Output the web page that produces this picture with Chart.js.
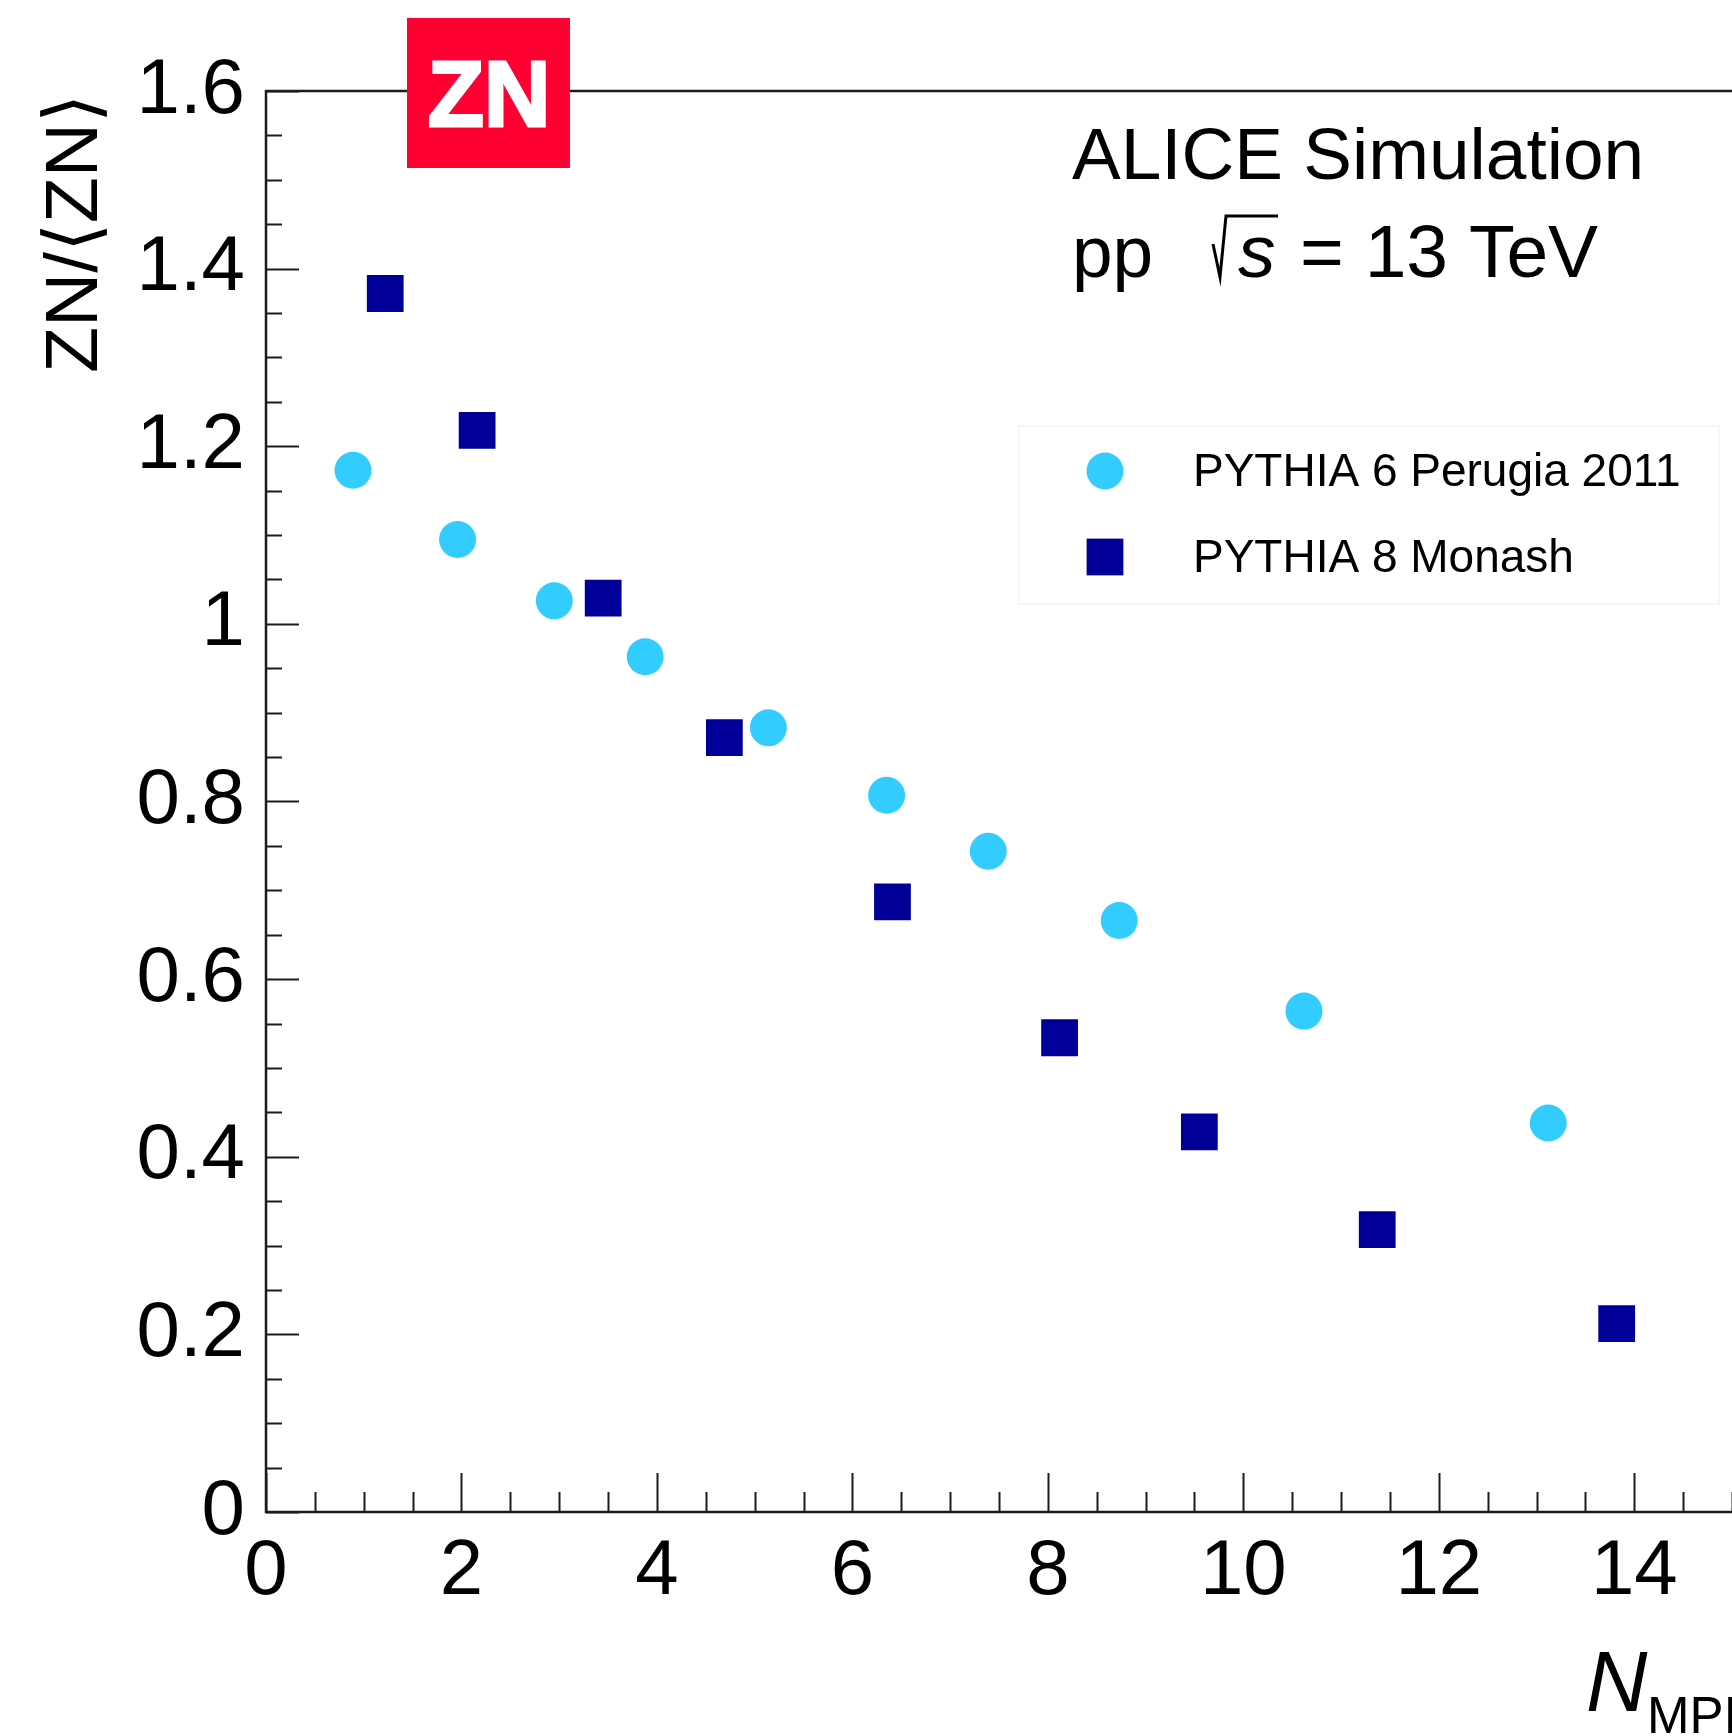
<!DOCTYPE html>
<html lang="en">
<head>
<meta charset="UTF-8">
<title>ZN/&lt;ZN&gt; vs N_MPI</title>
<script src="https://cdn.jsdelivr.net/npm/chart.js"></script>
<style>
  html, body { margin: 0; padding: 0; background: #ffffff; }
</style>
</head>
<body>
<canvas id="zn" width="1732" height="1736"></canvas>
<script>
// PYTHIA 6 Perugia 2011 (light blue circles)
const p6X = [0.89, 1.96, 2.95, 3.88, 5.14, 6.35, 7.39, 8.73, 10.62, 13.12];
const p6Y = [1.173, 1.095, 1.026, 0.963, 0.883, 0.807, 0.744, 0.666, 0.564, 0.438];
// PYTHIA 8 Monash (dark blue squares)
const p8X = [1.22, 2.16, 3.45, 4.69, 6.41, 8.12, 9.55, 11.37, 13.82];
const p8Y = [1.372, 1.218, 1.029, 0.872, 0.687, 0.534, 0.428, 0.318, 0.212];

const seriesLabels = ['PYTHIA 6 Perugia 2011', 'PYTHIA 8 Monash'];
const xTickValues = [0, 2, 4, 6, 8, 10, 12, 14];
const yTickValues = [0, 0.2, 0.4, 0.6, 0.8, 1.0, 1.2, 1.4, 1.6];
const yTickLabels = ['0', '0.2', '0.4', '0.6', '0.8', '1', '1.2', '1.4', '1.6'];
const xMinorStep = 0.5, yMinorStep = 0.05;

const FONT = "'Liberation Sans', Arial, Helvetica, sans-serif";

const toPoints = (xs, ys) => xs.map((v, i) => ({ x: v, y: ys[i] }));

// ROOT-style frame, inward ticks, titles, legend and logo
const rootDecor = {
  id: 'rootDecor',
  afterDraw(chart) {
    const { ctx, chartArea: a, scales: { x, y } } = chart;
    ctx.save();

    // frame
    ctx.strokeStyle = '#1c1c1c';
    ctx.lineWidth = 2.5;
    ctx.beginPath();
    ctx.moveTo(a.right, a.top);
    ctx.lineTo(a.left, a.top);
    ctx.lineTo(a.left, a.bottom);
    ctx.lineTo(a.right, a.bottom);
    ctx.stroke();

    // ticks pointing into the plot
    ctx.lineWidth = 2;
    ctx.beginPath();
    for (let v = x.min; v <= x.max + 1e-9; v += xMinorStep) {
      const px = Math.round(x.getPixelForValue(v)) + 0.5;
      const len = xTickValues.some(t => Math.abs(t - v) < 1e-6) ? 39 : 20;
      ctx.moveTo(px, a.bottom);
      ctx.lineTo(px, a.bottom - len);
    }
    for (let v = y.min; v <= y.max + 1e-9; v += yMinorStep) {
      const py = Math.round(y.getPixelForValue(v)) + 0.5;
      const len = yTickValues.some(t => Math.abs(t - v) < 1e-6) ? 33 : 16;
      ctx.moveTo(a.left, py);
      ctx.lineTo(a.left + len, py);
    }
    ctx.stroke();

    ctx.fillStyle = '#000';

    // y title, rotated, aligned to top of axis
    ctx.save();
    ctx.translate(97, 94);
    ctx.rotate(-Math.PI / 2);
    ctx.font = `75px ${FONT}`;
    ctx.textAlign = 'right';
    ctx.textBaseline = 'alphabetic';
    ctx.fillText('ZN/\u27E8ZN\u27E9', 0, 0);
    ctx.restore();

    // x title N_MPI
    ctx.textAlign = 'left';
    ctx.textBaseline = 'alphabetic';
    ctx.font = `italic 85px ${FONT}`;
    ctx.fillText('N', 1586, 1711);
    ctx.font = `51px ${FONT}`;
    ctx.fillText('MPI', 1647, 1733);

    // ALICE Simulation / pp sqrt(s) = 13 TeV
    ctx.font = `73px ${FONT}`;
    ctx.fillText('ALICE Simulation', 1072, 179);
    ctx.fillText('pp', 1072, 277);
    ctx.lineWidth = 3;
    ctx.strokeStyle = '#000';
    ctx.beginPath();
    ctx.moveTo(1213, 244);
    ctx.lineTo(1220, 277);
    ctx.lineTo(1226, 216);
    ctx.lineTo(1278, 216);
    ctx.stroke();
    ctx.font = `italic 75px ${FONT}`;
    ctx.fillText('s', 1238, 277);
    ctx.font = `75px ${FONT}`;
    ctx.fillText('= 13 TeV', 1300, 277);

    // legend box
    ctx.strokeStyle = '#f6f6f6';
    ctx.lineWidth = 2;
    ctx.strokeRect(1019, 426, 700, 178);
    const rowsY = [471, 557];
    ctx.font = `46px ${FONT}`;
    ctx.textBaseline = 'middle';
    chart.data.datasets.forEach((ds, i) => {
      ctx.fillStyle = ds.backgroundColor;
      if (ds.pointStyle === 'rect') {
        const s = ds.pointRadius * Math.SQRT1_2;
        ctx.fillRect(1105 - s, rowsY[i] - s, 2 * s, 2 * s);
      } else {
        ctx.beginPath();
        ctx.arc(1105, rowsY[i], ds.pointRadius, 0, Math.PI * 2);
        ctx.fill();
      }
      ctx.fillStyle = '#000';
      ctx.fillText(ds.label, 1193, rowsY[i] + 2);
    });

    // ZN logo
    ctx.fillStyle = '#ff0033';
    ctx.fillRect(407, 18, 163, 150);
    ctx.fillStyle = '#fff';
    ctx.strokeStyle = '#fff';
    ctx.lineWidth = 3;
    ctx.font = `bold 92px ${FONT}`;
    ctx.textAlign = 'center';
    ctx.textBaseline = 'alphabetic';
    ctx.fillText('ZN', 489, 126);
    ctx.strokeText('ZN', 489, 126);

    ctx.restore();
  }
};

new Chart(document.getElementById('zn'), {
  type: 'scatter',
  data: {
    datasets: [
      {
        label: seriesLabels[0],
        data: toPoints(p6X, p6Y),
        pointStyle: 'circle',
        pointRadius: 18.5,
        pointHoverRadius: 18.5,
        backgroundColor: '#33ccff',
        borderColor: '#33ccff',
        borderWidth: 0
      },
      {
        label: seriesLabels[1],
        data: toPoints(p8X, p8Y),
        pointStyle: 'rect',
        pointRadius: 26,
        pointHoverRadius: 26,
        backgroundColor: '#000099',
        borderColor: '#000099',
        borderWidth: 0
      }
    ]
  },
  options: {
    responsive: false,
    animation: false,
    layout: { autoPadding: false, padding: { top: 91, right: 0, left: 0, bottom: 0 } },
    plugins: { legend: { display: false }, tooltip: { enabled: false } },
    scales: {
      x: {
        type: 'linear',
        min: 0,
        max: 15,
        grid: { display: false },
        border: { display: false },
        afterBuildTicks: s => { s.ticks = xTickValues.map(v => ({ value: v })); },
        afterFit: s => { s.height = 224; s.paddingRight = 0; s.paddingLeft = 0; },
        ticks: {
          color: '#000',
          padding: 6,
          maxRotation: 0,
          autoSkip: false,
          font: { family: FONT, size: 78 }
        }
      },
      y: {
        type: 'linear',
        min: 0,
        max: 1.6,
        grid: { display: false },
        border: { display: false },
        afterBuildTicks: s => { s.ticks = yTickValues.map(v => ({ value: v })); },
        afterFit: s => { s.width = 266; },
        ticks: {
          color: '#000',
          padding: 13,
          autoSkip: false,
          font: { family: FONT, size: 78 },
          callback: (v, i) => yTickLabels[i]
        }
      }
    }
  },
  plugins: [rootDecor]
});
</script>
</body>
</html>
